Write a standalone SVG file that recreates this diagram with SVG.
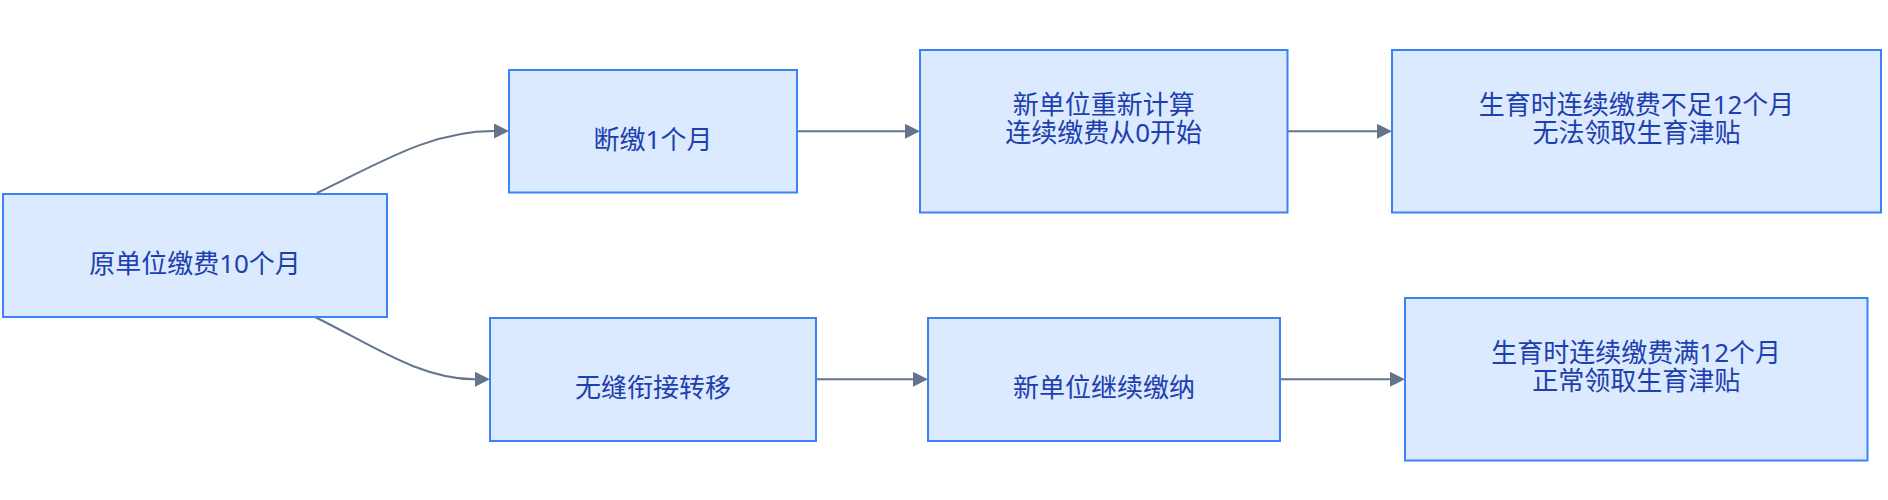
<svg xmlns="http://www.w3.org/2000/svg" width="1888" height="500" viewBox="0 0 1888 500">
<defs>
<marker id="arr" markerUnits="userSpaceOnUse" markerWidth="15" markerHeight="15" refX="0" refY="7.5" orient="auto">
<path d="M0,0 L15,7.5 L0,15 z" fill="#64748b"/>
</marker>
<style>
.n rect{fill:#dbeafe;stroke:#3b82f6;stroke-width:2}
.n text{font-family:"Noto Sans","Noto Sans CJK SC",sans-serif;font-size:26px;fill:#1e40af;text-anchor:middle}
.e path{fill:none;stroke:#64748b;stroke-width:2;marker-end:url(#arr)}
</style>
</defs>
<rect width="1888" height="500" fill="#ffffff"/>
<g id="edges" class="e">
<path d="M317,193 C380,163 430,131 494,131"/>
<path d="M315,317 C372,345 420,379.3 475,379.3"/>
<path d="M797,131.3 L905,131.3"/>
<path d="M1288,131.3 L1377,131.3"/>
<path d="M816,379.3 L913,379.3"/>
<path d="M1280,379.3 L1390,379.3"/>
</g>
<g id="n1" class="n"><rect x="3" y="194" width="384" height="123"/><text x="195" y="273">原单位缴费10个月</text></g>
<g id="n2" class="n"><rect x="509" y="70" width="288" height="122.5"/><text x="653" y="149">断缴1个月</text></g>
<g id="n3" class="n"><rect x="920" y="50" width="367.5" height="162.5"/><text x="1103.7" y="114">新单位重新计算</text><text x="1103.7" y="142">连续缴费从0开始</text></g>
<g id="n4" class="n"><rect x="1392" y="50" width="489" height="162.5"/><text x="1636.5" y="114">生育时连续缴费不足12个月</text><text x="1636.5" y="142">无法领取生育津贴</text></g>
<g id="n5" class="n"><rect x="490" y="318" width="326" height="123"/><text x="653" y="397">无缝衔接转移</text></g>
<g id="n6" class="n"><rect x="928" y="318" width="352" height="123"/><text x="1104" y="397">新单位继续缴纳</text></g>
<g id="n7" class="n"><rect x="1405" y="298" width="462.5" height="162.5"/><text x="1636.2" y="362">生育时连续缴费满12个月</text><text x="1636.2" y="390">正常领取生育津贴</text></g>
</svg>
